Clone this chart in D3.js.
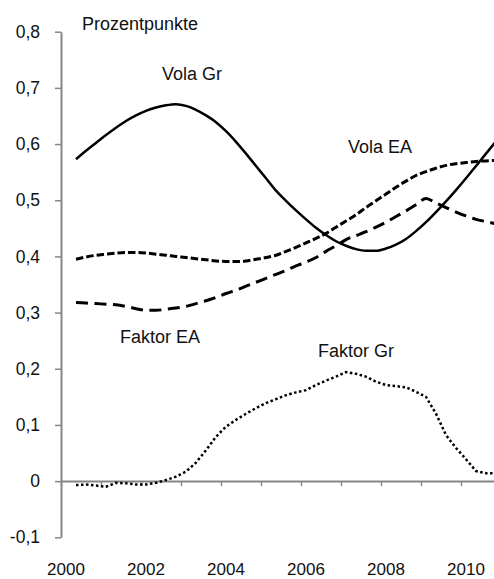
<!DOCTYPE html>
<meta charset="utf-8">
<style>
body { margin: 0; background: #fff; }
svg { display: block; }
text { font-family: "Liberation Sans", Arial, sans-serif; fill: #111; }
.axis path, .axis line { stroke: #868686; }
.axis path { stroke-width: 2; }
.axis line { stroke-width: 1.5; }
.series { fill: none; stroke: #000; }
</style>
<body>
<script src="https://cdn.jsdelivr.net/npm/d3@7"></script>
<script>
// quarters, 2000Q2 .. 2010Q4
var periods = ["2000Q2","2000Q3","2000Q4",
  "2001Q1","2001Q2","2001Q3","2001Q4","2002Q1","2002Q2","2002Q3","2002Q4",
  "2003Q1","2003Q2","2003Q3","2003Q4","2004Q1","2004Q2","2004Q3","2004Q4",
  "2005Q1","2005Q2","2005Q3","2005Q4","2006Q1","2006Q2","2006Q3","2006Q4",
  "2007Q1","2007Q2","2007Q3","2007Q4","2008Q1","2008Q2","2008Q3","2008Q4",
  "2009Q1","2009Q2","2009Q3","2009Q4","2010Q1","2010Q2","2010Q3","2010Q4"];

var volaGr = [0.573,0.588,0.602,
  0.616,0.629,0.641,0.651,0.659,0.665,0.669,0.671,
  0.668,0.661,0.651,0.639,0.623,0.604,0.583,0.561,
  0.539,0.517,0.499,0.482,0.466,0.451,0.438,0.427,
  0.419,0.413,0.410,0.410,0.414,0.421,0.431,0.445,
  0.461,0.479,0.498,0.518,0.539,0.561,0.583,0.605];

var volaEA = [0.395,0.399,0.402,
  0.404,0.406,0.407,0.407,0.406,0.404,0.402,0.400,
  0.398,0.396,0.394,0.392,0.391,0.391,0.392,0.395,
  0.398,0.402,0.409,0.416,0.424,0.432,0.441,0.452,
  0.463,0.474,0.487,0.499,0.511,0.523,0.534,0.544,
  0.551,0.557,0.562,0.565,0.567,0.569,0.570,0.571];

var faktorEA = [0.318,0.317,0.316,
  0.315,0.314,0.311,0.307,0.304,0.304,0.306,0.308,
  0.311,0.316,0.321,0.327,0.334,0.340,0.347,0.354,
  0.361,0.368,0.375,0.383,0.390,0.398,0.409,0.419,
  0.430,0.437,0.444,0.452,0.461,0.471,0.481,0.492,
  0.503,0.495,0.487,0.479,0.472,0.466,0.462,0.458];

var faktorGr = [-0.007,-0.006,-0.008,
  -0.010,-0.003,-0.004,-0.006,-0.006,-0.003,0.002,0.008,
  0.017,0.033,0.055,0.079,0.097,0.109,0.120,0.130,
  0.139,0.146,0.153,0.158,0.162,0.171,0.179,0.186,
  0.194,0.191,0.186,0.177,0.171,0.169,0.167,0.159,
  0.150,0.120,0.082,0.059,0.039,0.018,0.014,0.014];

var yTicks = [-0.1, 0, 0.1, 0.2, 0.3, 0.4, 0.5, 0.6, 0.7, 0.8];
var yearTicks = [2000, 2001, 2002, 2003, 2004, 2005, 2006, 2007, 2008, 2009, 2010];
var yearLabels = [2000, 2002, 2004, 2006, 2008, 2010];

var width = 494, height = 579;

var de = d3.formatLocale({decimal: ",", thousands: ".", grouping: [3], currency: ["", " €"], minus: "-"});
var fmt = de.format(".1~f");

function periodTime(p) {
  return +p.slice(0, 4) + (+p.slice(5) - 0.5) / 4;
}

var x = d3.scaleLinear().domain([2000, 2011]).range([61, 501]);
var y = d3.scaleLinear().domain([-0.1, 0.8]).range([537.3, 31.7]);

var svg = d3.select("body").append("svg")
    .attr("width", width)
    .attr("height", height);

// y axis
var yAxis = svg.append("g")
    .attr("class", "axis")
    .attr("transform", "translate(" + x(2000) + ",0)")
    .call(d3.axisLeft(y).tickValues(yTicks).tickFormat(fmt).tickSize(6).tickSizeOuter(0).tickPadding(15));
yAxis.selectAll("text").style("font-size", "17.5px").style("font-family", "Liberation Sans, Arial, sans-serif");

// x axis at zero, tick marks only
svg.append("g")
    .attr("class", "axis")
    .attr("transform", "translate(0," + y(0) + ")")
    .call(d3.axisBottom(x).tickValues(yearTicks).tickFormat("").tickSize(5).tickSizeOuter(0));

// year labels at the bottom, centred on the first quarter
svg.append("g")
    .selectAll("text")
    .data(yearLabels)
    .enter().append("text")
      .attr("x", function(d) { return x(d + 0.125); })
      .attr("y", 575)
      .attr("text-anchor", "middle")
      .style("font-size", "17px")
      .text(function(d) { return d; });

var series = [
  {name: "Vola Gr", values: volaGr, width: 2.5, dash: null, curve: d3.curveMonotoneX},
  {name: "Vola EA", values: volaEA, width: 3, dash: "7.5,3", curve: d3.curveMonotoneX},
  {name: "Faktor EA", values: faktorEA, width: 3, dash: "12,6.5", curve: d3.curveMonotoneX},
  {name: "Faktor Gr", values: faktorGr, width: 2.5, dash: "2.5,2.5", curve: d3.curveLinear}
];

series.forEach(function(s) {
  var line = d3.line()
      .x(function(d, i) { return x(periodTime(periods[i])); })
      .y(function(d) { return y(d); })
      .curve(s.curve);
  svg.append("path")
      .datum(s.values)
      .attr("class", "series")
      .attr("d", line)
      .attr("stroke-width", s.width)
      .attr("stroke-dasharray", s.dash);
});

// labels
var labels = [
  {text: "Prozentpunkte", x: 82, y: 30},
  {text: "Vola Gr", x: 162, y: 80},
  {text: "Vola EA", x: 348, y: 153},
  {text: "Faktor EA", x: 120, y: 343},
  {text: "Faktor Gr", x: 318, y: 357}
];
svg.selectAll(".lbl")
    .data(labels)
    .enter().append("text")
      .attr("class", "lbl")
      .attr("x", function(d) { return d.x; })
      .attr("y", function(d) { return d.y; })
      .style("font-size", "18px")
      .text(function(d) { return d.text; });
</script>
</body>
